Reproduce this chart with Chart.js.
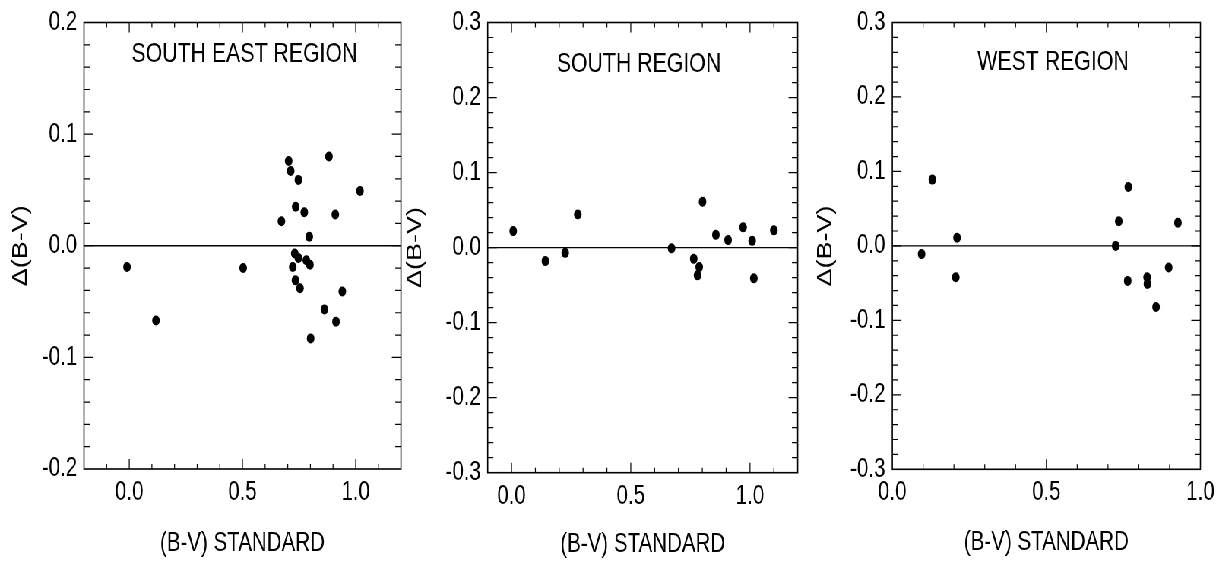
<!DOCTYPE html>
<html lang="en">
<head>
<meta charset="UTF-8" />
<title>Δ(B-V) vs (B-V) standard</title>
<script src="https://cdn.jsdelivr.net/npm/chart.js"></script>
<style>
  html, body { margin: 0; padding: 0; background: #fff; overflow: hidden; }
  /* the whole figure is horizontally compressed in the original */
  #wrap { position: absolute; left: 0; top: 0; width: 1612px; height: 565px; transform: scaleX(0.76); transform-origin: 0 0; }
  canvas { position: absolute; top: 0; }
</style>
</head>
<body>
<div id="wrap">
  <canvas id="c1" width="560" height="565" style="left:0px"></canvas>
  <canvas id="c2" width="560" height="565" style="left:520px"></canvas>
  <canvas id="c3" width="552" height="565" style="left:1060px"></canvas>
</div>

<script>
// panel titles
const regions = ['SOUTH EAST REGION', 'SOUTH REGION', 'WEST REGION'];

// South East region: (B-V) standard and Δ(B-V)
const seX = [-0.01, 0.118, 0.503, 0.704, 0.713, 0.747, 0.882, 1.019, 0.735, 0.773, 0.910, 0.672,
             0.795, 0.731, 0.747, 0.782, 0.798, 0.722, 0.734, 0.754, 0.941, 0.862, 0.913, 0.801];
const seY = [-0.019, -0.067, -0.020, 0.076, 0.067, 0.059, 0.080, 0.049, 0.035, 0.030, 0.028, 0.022,
             0.008, -0.007, -0.011, -0.013, -0.017, -0.019, -0.031, -0.038, -0.041, -0.057, -0.068, -0.083];

// South region
const sX = [0.007, 0.142, 0.225, 0.278, 0.671, 0.764, 0.787, 0.780, 0.801, 0.857, 0.908, 0.971, 1.009, 1.016, 1.100];
const sY = [0.022, -0.018, -0.007, 0.044, -0.001, -0.015, -0.026, -0.037, 0.061, 0.017, 0.010, 0.027, 0.009, -0.041, 0.023];

// West region
const wX = [0.095, 0.130, 0.210, 0.206, 0.725, 0.735, 0.766, 0.927, 0.897, 0.764, 0.827, 0.828, 0.856];
const wY = [-0.011, 0.089, 0.011, -0.042, 0.000, 0.033, 0.079, 0.031, -0.029, -0.047, -0.042, -0.051, -0.082];

// labelled ticks
const xTicks = [0, 0.5, 1.0];
const yTicks2 = [-0.2, -0.1, 0, 0.1, 0.2];
const yTicks3 = [-0.3, -0.2, -0.1, 0, 0.1, 0.2, 0.3];

const FONT = '"Liberation Sans", Arial, Helvetica, sans-serif';

// frame, inward tick marks on all four sides, and the region label inside the plot
const frameTicks = {
  id: 'frameTicks',
  afterDatasetsDraw(chart, args, o) {
    const { ctx, chartArea: a, scales: { x, y } } = chart;
    const isMul = (v, m) => Math.abs(v / m - Math.round(v / m)) < 1e-6;
    ctx.save();
    ctx.strokeStyle = '#000';
    ctx.lineWidth = 1.2;
    ctx.beginPath();
    let n = Math.round((x.max - x.min) / o.xMinor);
    for (let i = 1; i < n; i++) {
      const v = x.min + i * o.xMinor;
      const px = x.getPixelForValue(v);
      const len = isMul(v, o.xMajor) ? 10 : 5;
      ctx.moveTo(px, a.bottom); ctx.lineTo(px, a.bottom - len);
      ctx.moveTo(px, a.top); ctx.lineTo(px, a.top + len);
    }
    n = Math.round((y.max - y.min) / o.yMinor);
    for (let i = 1; i < n; i++) {
      const v = y.min + i * o.yMinor;
      const py = y.getPixelForValue(v);
      const len = isMul(v, o.yMajor) ? 12 : 7.5;
      ctx.moveTo(a.left, py); ctx.lineTo(a.left + len, py);
      ctx.moveTo(a.right, py); ctx.lineTo(a.right - len, py);
    }
    ctx.stroke();
    ctx.lineWidth = 1.6;
    ctx.strokeRect(a.left, a.top, a.right - a.left, a.bottom - a.top);
    ctx.fillStyle = '#000';
    ctx.font = '28px ' + FONT;
    ctx.textAlign = 'center';
    ctx.textBaseline = 'middle';
    ctx.fillText(o.label, (a.left + a.right) / 2 + o.labelDx, a.top + o.labelDy);
    ctx.restore();
  }
};

function makePanel(id, p) {
  const pts = p.xs.map((v, i) => ({ x: v, y: p.ys[i] }));
  return new Chart(document.getElementById(id), {
    type: 'scatter',
    data: {
      datasets: [
        { type: 'line', data: [{ x: p.xMin, y: 0 }, { x: p.xMax, y: 0 }], borderColor: '#000', borderWidth: 1.3, pointRadius: 0, order: 2 },
        { data: pts, backgroundColor: '#000', borderWidth: 0, pointRadius: 5, order: 1 }
      ]
    },
    options: {
      responsive: false,
      animation: false,
      layout: { padding: { left: 0, right: p.padRight, top: p.top, bottom: 0 } },
      plugins: {
        legend: { display: false },
        tooltip: { enabled: false },
        frameTicks: { xMinor: 0.1, xMajor: 0.5, yMinor: 0.02, yMajor: 0.1, label: p.label, labelDx: p.labelDx, labelDy: p.labelDy }
      },
      scales: {
        x: {
          type: 'linear', min: p.xMin, max: p.xMax,
          grid: { display: false, drawTicks: false }, border: { display: false },
          afterBuildTicks: s => { s.ticks = xTicks.map(v => ({ value: v })); },
          afterFit: s => { s.height = p.xHeight; },
          ticks: { color: '#000', padding: 10, maxRotation: 0, font: { family: FONT, size: 27, lineHeight: 1 }, callback: v => v.toFixed(1) },
          title: { display: true, text: '(B-V) STANDARD', color: '#000', font: { family: FONT, size: 27, lineHeight: 1 }, padding: { top: 0, bottom: p.xTitlePad } }
        },
        y: {
          type: 'linear', min: p.yMin, max: p.yMax,
          grid: { display: false, drawTicks: false }, border: { display: false },
          afterBuildTicks: s => { s.ticks = p.yTicks.map(v => ({ value: v })); },
          afterFit: s => { s.width = p.yWidth; },
          ticks: { color: '#000', padding: 9, font: { family: FONT, size: 27, lineHeight: 1 }, callback: v => v.toFixed(1) },
          title: { display: true, text: 'Δ(B-V)', color: '#000', font: { family: FONT, size: 27, lineHeight: 1 }, padding: { top: p.yTitlePad, bottom: 0 } }
        }
      }
    },
    plugins: [frameTicks]
  });
}

makePanel('c1', { xs: seX, ys: seY, label: regions[0], xMin: -0.2, xMax: 1.2, yMin: -0.2, yMax: 0.2, yTicks: yTicks2,
  top: 15, xHeight: 96, yWidth: 110.5, padRight: 32.4, yTitlePad: 14.5, xTitlePad: 7.5, labelDx: 2.6, labelDy: 32 });
makePanel('c2', { xs: sX, ys: sY, label: regions[1], xMin: -0.1, xMax: 1.2, yMin: -0.3, yMax: 0.3, yTicks: yTicks3,
  top: 18.3, xHeight: 92.3, yWidth: 121.7, padRight: 30.4, yTitlePad: 12.9, xTitlePad: 6.5, labelDx: -4.9, labelDy: 42 });
makePanel('c3', { xs: wX, ys: wY, label: regions[2], xMin: 0, xMax: 1.0, yMin: -0.3, yMax: 0.3, yTicks: yTicks3,
  top: 21.7, xHeight: 95.7, yWidth: 114.1, padRight: 32.5, yTitlePad: 13.3, xTitlePad: 8.5, labelDx: 8.8, labelDy: 40 });
</script>
</body>
</html>
